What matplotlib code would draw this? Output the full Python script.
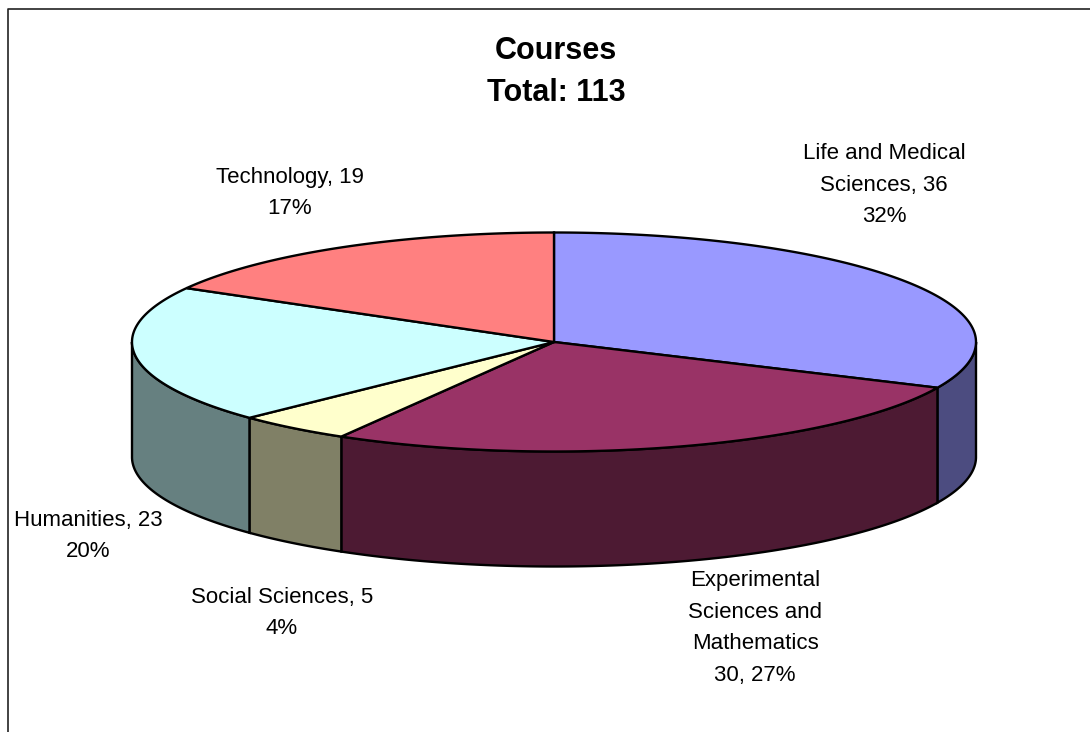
import numpy as np
import matplotlib
matplotlib.use("Agg")
import matplotlib.pyplot as plt
from matplotlib.patches import Polygon

# Data
categories = ["Life and Medical Sciences", "Experimental Sciences and Mathematics",
              "Social Sciences", "Humanities", "Technology"]
values = [36, 30, 5, 23, 19]
label_names = ["Life and Medical\nSciences", "Experimental\nSciences and\nMathematics",
               "Social Sciences", "Humanities", "Technology"]
label_formats = ["{name}, {v}\n{p}%", "{name}\n{v}, {p}%",
                 "{name}, {v}\n{p}%", "{name}, {v}\n{p}%", "{name}, {v}\n{p}%"]
top_colors = ["#9999FF", "#993366", "#FFFFCC", "#CCFFFF", "#FF8080"]
side_colors = ["#4C4C80", "#4D1A33", "#808066", "#668080", "#804040"]

total = sum(values)

# layout (pixels)
cx, cy = 554, 342
rx, ry = 422, 109.5
depth = 115
label_pos = [(884, 185), (755, 628), (282, 613), (88, 536), (290, 193)]

plt.rcParams['font.family'] = ['Liberation Sans', 'DejaVu Sans']

fig = plt.figure(figsize=(10.9, 7.32), dpi=100)
ax = fig.add_axes([0, 0, 1, 1])
ax.set_xlim(0, 1090)
ax.set_ylim(732, 0)
ax.axis('off')

# frame of the chart area (cropped at right and bottom)
ax.plot([8, 8, 1095], [740, 9, 9], color='#222222', lw=1.2)


def arc(t_a, t_b, dy=0, n=200):
    t = np.radians(np.linspace(t_a, t_b, n))
    return np.column_stack([cx + rx * np.cos(t), cy + dy - ry * np.sin(t)])


# wedge angles, start at 12 o'clock going clockwise
angles = [90.0]
for v in values:
    angles.append(angles[-1] - v / total * 360)

# side walls (front half only)
for i in range(len(values)):
    t0, t1 = angles[i], angles[i + 1]
    a, b = min(t0, 0), max(t1, -180)
    if a > b:
        top = arc(a, b)
        bottom = arc(b, a, dy=depth)
        ax.add_patch(Polygon(np.vstack([top, bottom]), closed=True,
                             facecolor=side_colors[i], edgecolor='black', lw=1.7))

# top faces
for i in range(len(values)):
    pts = np.vstack([[cx, cy], arc(angles[i], angles[i + 1])])
    ax.add_patch(Polygon(pts, closed=True, facecolor=top_colors[i],
                         edgecolor='black', lw=1.7))

# labels
for i in range(len(values)):
    pct = round(values[i] / total * 100)
    txt = label_formats[i].format(name=label_names[i], v=values[i], p=pct)
    x, y = label_pos[i]
    ax.text(x, y, txt, ha='center', va='center', fontsize=16,
            linespacing=1.68, multialignment='center')

ax.text(556, 72, "Courses\nTotal: " + str(total), ha='center', va='center',
        fontsize=22, fontweight='bold', linespacing=1.5)

fig.savefig("out.png", dpi=100)
